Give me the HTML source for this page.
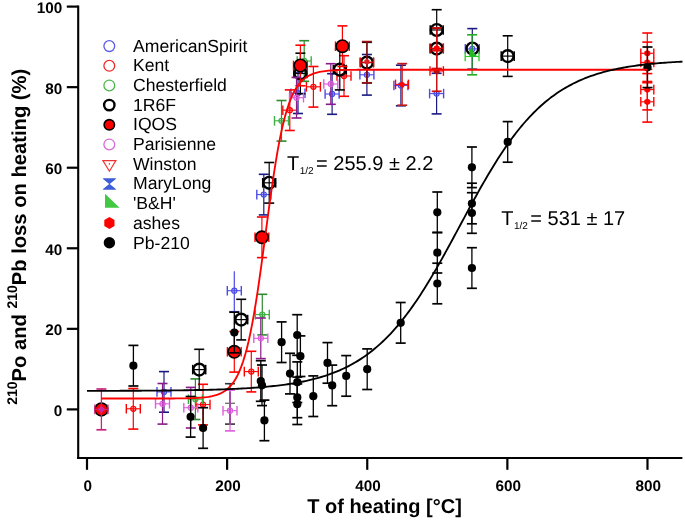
<!DOCTYPE html>
<html><head><meta charset="utf-8"><style>
html,body{margin:0;padding:0;background:#fff;width:685px;height:520px;overflow:hidden}
svg{display:block;will-change:transform}
text{font-family:"Liberation Sans",sans-serif;text-rendering:geometricPrecision}
.tk{font-weight:bold;font-size:15.3px}
.ttl{font-weight:bold;font-size:20px}
.yt{font-size:20.2px}
.sup{font-size:14px}
.leg{font-size:17.6px}
.lab{font-size:20px}
.sub{font-size:10px}
</style></head><body>
<svg width="685" height="520" viewBox="0 0 685 520">
<rect width="685" height="520" fill="#fff"/>
<line x1="164" y1="371.6" x2="164" y2="412.2" stroke="#1a1a84" stroke-width="1.2"/>
<line x1="159" y1="371.6" x2="169" y2="371.6" stroke="#1a1a84" stroke-width="1.6"/>
<line x1="159" y1="412.2" x2="169" y2="412.2" stroke="#1a1a84" stroke-width="1.6"/>
<line x1="157" y1="391.9" x2="171" y2="391.9" stroke="#4b4bea" stroke-width="1.1"/>
<line x1="157" y1="387.1" x2="157" y2="396.7" stroke="#4b4bea" stroke-width="1.4000000000000001"/>
<line x1="171" y1="387.1" x2="171" y2="396.7" stroke="#4b4bea" stroke-width="1.4000000000000001"/>
<circle cx="164" cy="391.9" r="2.6" fill="#4b4bea" fill-opacity="0.35" stroke="#4b4bea" stroke-width="1.1"/>
<line x1="263.8" y1="174.3" x2="263.8" y2="214.9" stroke="#1a1a84" stroke-width="1.2"/>
<line x1="258.8" y1="174.3" x2="268.8" y2="174.3" stroke="#1a1a84" stroke-width="1.6"/>
<line x1="258.8" y1="214.9" x2="268.8" y2="214.9" stroke="#1a1a84" stroke-width="1.6"/>
<line x1="256.8" y1="194.6" x2="270.8" y2="194.6" stroke="#4b4bea" stroke-width="1.1"/>
<line x1="256.8" y1="189.8" x2="256.8" y2="199.4" stroke="#4b4bea" stroke-width="1.4000000000000001"/>
<line x1="270.8" y1="189.8" x2="270.8" y2="199.4" stroke="#4b4bea" stroke-width="1.4000000000000001"/>
<circle cx="263.8" cy="194.6" r="2.6" fill="#4b4bea" fill-opacity="0.35" stroke="#4b4bea" stroke-width="1.1"/>
<line x1="298" y1="72.9" x2="298" y2="113.5" stroke="#1a1a84" stroke-width="1.2"/>
<line x1="293" y1="72.9" x2="303" y2="72.9" stroke="#1a1a84" stroke-width="1.6"/>
<line x1="293" y1="113.5" x2="303" y2="113.5" stroke="#1a1a84" stroke-width="1.6"/>
<line x1="291" y1="93.2" x2="305" y2="93.2" stroke="#4b4bea" stroke-width="1.1"/>
<line x1="291" y1="88.4" x2="291" y2="98" stroke="#4b4bea" stroke-width="1.4000000000000001"/>
<line x1="305" y1="88.4" x2="305" y2="98" stroke="#4b4bea" stroke-width="1.4000000000000001"/>
<circle cx="298" cy="93.2" r="2.6" fill="#4b4bea" fill-opacity="0.35" stroke="#4b4bea" stroke-width="1.1"/>
<line x1="332.1" y1="73.7" x2="332.1" y2="114.3" stroke="#1a1a84" stroke-width="1.2"/>
<line x1="327.1" y1="73.7" x2="337.1" y2="73.7" stroke="#1a1a84" stroke-width="1.6"/>
<line x1="327.1" y1="114.3" x2="337.1" y2="114.3" stroke="#1a1a84" stroke-width="1.6"/>
<line x1="325.1" y1="94" x2="339.1" y2="94" stroke="#4b4bea" stroke-width="1.1"/>
<line x1="325.1" y1="89.2" x2="325.1" y2="98.8" stroke="#4b4bea" stroke-width="1.4000000000000001"/>
<line x1="339.1" y1="89.2" x2="339.1" y2="98.8" stroke="#4b4bea" stroke-width="1.4000000000000001"/>
<circle cx="332.1" cy="94" r="2.6" fill="#4b4bea" fill-opacity="0.35" stroke="#4b4bea" stroke-width="1.1"/>
<line x1="366.9" y1="54.5" x2="366.9" y2="95.1" stroke="#1a1a84" stroke-width="1.2"/>
<line x1="361.9" y1="54.5" x2="371.9" y2="54.5" stroke="#1a1a84" stroke-width="1.6"/>
<line x1="361.9" y1="95.1" x2="371.9" y2="95.1" stroke="#1a1a84" stroke-width="1.6"/>
<line x1="359.9" y1="74.8" x2="373.9" y2="74.8" stroke="#4b4bea" stroke-width="1.1"/>
<line x1="359.9" y1="70" x2="359.9" y2="79.6" stroke="#4b4bea" stroke-width="1.4000000000000001"/>
<line x1="373.9" y1="70" x2="373.9" y2="79.6" stroke="#4b4bea" stroke-width="1.4000000000000001"/>
<circle cx="366.9" cy="74.8" r="2.6" fill="#4b4bea" fill-opacity="0.35" stroke="#4b4bea" stroke-width="1.1"/>
<line x1="400.9" y1="65.2" x2="400.9" y2="105.8" stroke="#1a1a84" stroke-width="1.2"/>
<line x1="395.9" y1="65.2" x2="405.9" y2="65.2" stroke="#1a1a84" stroke-width="1.6"/>
<line x1="395.9" y1="105.8" x2="405.9" y2="105.8" stroke="#1a1a84" stroke-width="1.6"/>
<line x1="393.9" y1="85.5" x2="407.9" y2="85.5" stroke="#4b4bea" stroke-width="1.1"/>
<line x1="393.9" y1="80.7" x2="393.9" y2="90.3" stroke="#4b4bea" stroke-width="1.4000000000000001"/>
<line x1="407.9" y1="80.7" x2="407.9" y2="90.3" stroke="#4b4bea" stroke-width="1.4000000000000001"/>
<circle cx="400.9" cy="85.5" r="2.6" fill="#4b4bea" fill-opacity="0.35" stroke="#4b4bea" stroke-width="1.1"/>
<line x1="436.6" y1="73.3" x2="436.6" y2="113.9" stroke="#1a1a84" stroke-width="1.2"/>
<line x1="431.6" y1="73.3" x2="441.6" y2="73.3" stroke="#1a1a84" stroke-width="1.6"/>
<line x1="431.6" y1="113.9" x2="441.6" y2="113.9" stroke="#1a1a84" stroke-width="1.6"/>
<line x1="429.6" y1="93.6" x2="443.6" y2="93.6" stroke="#4b4bea" stroke-width="1.1"/>
<line x1="429.6" y1="88.8" x2="429.6" y2="98.4" stroke="#4b4bea" stroke-width="1.4000000000000001"/>
<line x1="443.6" y1="88.8" x2="443.6" y2="98.4" stroke="#4b4bea" stroke-width="1.4000000000000001"/>
<circle cx="436.6" cy="93.6" r="2.6" fill="#4b4bea" fill-opacity="0.35" stroke="#4b4bea" stroke-width="1.1"/>
<line x1="472.3" y1="28.6" x2="472.3" y2="69.2" stroke="#1a1a84" stroke-width="1.2"/>
<line x1="467.3" y1="28.6" x2="477.3" y2="28.6" stroke="#1a1a84" stroke-width="1.6"/>
<line x1="467.3" y1="69.2" x2="477.3" y2="69.2" stroke="#1a1a84" stroke-width="1.6"/>
<line x1="465.3" y1="48.9" x2="479.3" y2="48.9" stroke="#4b4bea" stroke-width="1.1"/>
<line x1="465.3" y1="44.1" x2="465.3" y2="53.7" stroke="#4b4bea" stroke-width="1.4000000000000001"/>
<line x1="479.3" y1="44.1" x2="479.3" y2="53.7" stroke="#4b4bea" stroke-width="1.4000000000000001"/>
<circle cx="472.3" cy="48.9" r="2.6" fill="#4b4bea" fill-opacity="0.35" stroke="#4b4bea" stroke-width="1.1"/>
<line x1="234.3" y1="271.3" x2="234.3" y2="311.7" stroke="#4a4ae4" stroke-width="1.2"/>
<line x1="229.3" y1="311.7" x2="239.3" y2="311.7" stroke="#4a4ae4" stroke-width="1.6"/>
<line x1="227.3" y1="290.7" x2="241.3" y2="290.7" stroke="#4b4bea" stroke-width="1.1"/>
<line x1="227.3" y1="285.9" x2="227.3" y2="295.5" stroke="#4b4bea" stroke-width="1.4000000000000001"/>
<line x1="241.3" y1="285.9" x2="241.3" y2="295.5" stroke="#4b4bea" stroke-width="1.4000000000000001"/>
<circle cx="234.3" cy="290.7" r="2.6" fill="#4b4bea" fill-opacity="0.35" stroke="#4b4bea" stroke-width="1.1"/>
<line x1="133.3" y1="388.5" x2="133.3" y2="429.1" stroke="#ff0000" stroke-width="1.2"/>
<line x1="128.3" y1="388.5" x2="138.3" y2="388.5" stroke="#ff0000" stroke-width="1.6"/>
<line x1="128.3" y1="429.1" x2="138.3" y2="429.1" stroke="#ff0000" stroke-width="1.6"/>
<line x1="126.3" y1="408.8" x2="140.3" y2="408.8" stroke="#ff0000" stroke-width="1.1"/>
<line x1="126.3" y1="404" x2="126.3" y2="413.6" stroke="#ff0000" stroke-width="1.4000000000000001"/>
<line x1="140.3" y1="404" x2="140.3" y2="413.6" stroke="#ff0000" stroke-width="1.4000000000000001"/>
<circle cx="133.3" cy="408.8" r="2.6" fill="#ff0000" fill-opacity="0.35" stroke="#ff0000" stroke-width="1.1"/>
<line x1="203" y1="384.3" x2="203" y2="424.9" stroke="#ff0000" stroke-width="1.2"/>
<line x1="198" y1="384.3" x2="208" y2="384.3" stroke="#ff0000" stroke-width="1.6"/>
<line x1="198" y1="424.9" x2="208" y2="424.9" stroke="#ff0000" stroke-width="1.6"/>
<line x1="196" y1="404.6" x2="210" y2="404.6" stroke="#ff0000" stroke-width="1.1"/>
<line x1="196" y1="399.8" x2="196" y2="409.4" stroke="#ff0000" stroke-width="1.4000000000000001"/>
<line x1="210" y1="399.8" x2="210" y2="409.4" stroke="#ff0000" stroke-width="1.4000000000000001"/>
<circle cx="203" cy="404.6" r="2.6" fill="#ff0000" fill-opacity="0.35" stroke="#ff0000" stroke-width="1.1"/>
<line x1="251.3" y1="351.3" x2="251.3" y2="391.9" stroke="#ff0000" stroke-width="1.2"/>
<line x1="246.3" y1="351.3" x2="256.3" y2="351.3" stroke="#ff0000" stroke-width="1.6"/>
<line x1="246.3" y1="391.9" x2="256.3" y2="391.9" stroke="#ff0000" stroke-width="1.6"/>
<line x1="244.3" y1="371.6" x2="258.3" y2="371.6" stroke="#ff0000" stroke-width="1.1"/>
<line x1="244.3" y1="366.8" x2="244.3" y2="376.4" stroke="#ff0000" stroke-width="1.4000000000000001"/>
<line x1="258.3" y1="366.8" x2="258.3" y2="376.4" stroke="#ff0000" stroke-width="1.4000000000000001"/>
<circle cx="251.3" cy="371.6" r="2.6" fill="#ff0000" fill-opacity="0.35" stroke="#ff0000" stroke-width="1.1"/>
<line x1="289.8" y1="89.9" x2="289.8" y2="130.5" stroke="#ff0000" stroke-width="1.2"/>
<line x1="284.8" y1="89.9" x2="294.8" y2="89.9" stroke="#ff0000" stroke-width="1.6"/>
<line x1="284.8" y1="130.5" x2="294.8" y2="130.5" stroke="#ff0000" stroke-width="1.6"/>
<line x1="282.8" y1="110.2" x2="296.8" y2="110.2" stroke="#ff0000" stroke-width="1.1"/>
<line x1="282.8" y1="105.4" x2="282.8" y2="115" stroke="#ff0000" stroke-width="1.4000000000000001"/>
<line x1="296.8" y1="105.4" x2="296.8" y2="115" stroke="#ff0000" stroke-width="1.4000000000000001"/>
<circle cx="289.8" cy="110.2" r="2.6" fill="#ff0000" fill-opacity="0.35" stroke="#ff0000" stroke-width="1.1"/>
<line x1="313.4" y1="66.5" x2="313.4" y2="107.1" stroke="#ff0000" stroke-width="1.2"/>
<line x1="308.4" y1="66.5" x2="318.4" y2="66.5" stroke="#ff0000" stroke-width="1.6"/>
<line x1="308.4" y1="107.1" x2="318.4" y2="107.1" stroke="#ff0000" stroke-width="1.6"/>
<line x1="306.4" y1="86.8" x2="320.4" y2="86.8" stroke="#ff0000" stroke-width="1.1"/>
<line x1="306.4" y1="82" x2="306.4" y2="91.6" stroke="#ff0000" stroke-width="1.4000000000000001"/>
<line x1="320.4" y1="82" x2="320.4" y2="91.6" stroke="#ff0000" stroke-width="1.4000000000000001"/>
<circle cx="313.4" cy="86.8" r="2.6" fill="#ff0000" fill-opacity="0.35" stroke="#ff0000" stroke-width="1.1"/>
<line x1="344" y1="55.7" x2="344" y2="96.3" stroke="#ff0000" stroke-width="1.2"/>
<line x1="339" y1="55.7" x2="349" y2="55.7" stroke="#ff0000" stroke-width="1.6"/>
<line x1="339" y1="96.3" x2="349" y2="96.3" stroke="#ff0000" stroke-width="1.6"/>
<line x1="337" y1="76" x2="351" y2="76" stroke="#ff0000" stroke-width="1.1"/>
<line x1="337" y1="71.2" x2="337" y2="80.8" stroke="#ff0000" stroke-width="1.4000000000000001"/>
<line x1="351" y1="71.2" x2="351" y2="80.8" stroke="#ff0000" stroke-width="1.4000000000000001"/>
<circle cx="344" cy="76" r="2.6" fill="#ff0000" fill-opacity="0.35" stroke="#ff0000" stroke-width="1.1"/>
<line x1="195.4" y1="378.9" x2="195.4" y2="419.5" stroke="#2e8b2e" stroke-width="1.2"/>
<line x1="190.4" y1="378.9" x2="200.4" y2="378.9" stroke="#2e8b2e" stroke-width="1.6"/>
<line x1="190.4" y1="419.5" x2="200.4" y2="419.5" stroke="#2e8b2e" stroke-width="1.6"/>
<line x1="188.4" y1="399.2" x2="202.4" y2="399.2" stroke="#3cb043" stroke-width="1.1"/>
<line x1="188.4" y1="394.4" x2="188.4" y2="404" stroke="#3cb043" stroke-width="1.4000000000000001"/>
<line x1="202.4" y1="394.4" x2="202.4" y2="404" stroke="#3cb043" stroke-width="1.4000000000000001"/>
<circle cx="195.4" cy="399.2" r="2.6" fill="#3cb043" fill-opacity="0.35" stroke="#3cb043" stroke-width="1.1"/>
<line x1="262.3" y1="294.3" x2="262.3" y2="334.9" stroke="#2e8b2e" stroke-width="1.2"/>
<line x1="257.3" y1="294.3" x2="267.3" y2="294.3" stroke="#2e8b2e" stroke-width="1.6"/>
<line x1="257.3" y1="334.9" x2="267.3" y2="334.9" stroke="#2e8b2e" stroke-width="1.6"/>
<line x1="255.3" y1="314.6" x2="269.3" y2="314.6" stroke="#3cb043" stroke-width="1.1"/>
<line x1="255.3" y1="309.8" x2="255.3" y2="319.4" stroke="#3cb043" stroke-width="1.4000000000000001"/>
<line x1="269.3" y1="309.8" x2="269.3" y2="319.4" stroke="#3cb043" stroke-width="1.4000000000000001"/>
<circle cx="262.3" cy="314.6" r="2.6" fill="#3cb043" fill-opacity="0.35" stroke="#3cb043" stroke-width="1.1"/>
<line x1="281.5" y1="100.5" x2="281.5" y2="141.1" stroke="#2e8b2e" stroke-width="1.2"/>
<line x1="276.5" y1="100.5" x2="286.5" y2="100.5" stroke="#2e8b2e" stroke-width="1.6"/>
<line x1="276.5" y1="141.1" x2="286.5" y2="141.1" stroke="#2e8b2e" stroke-width="1.6"/>
<line x1="274.5" y1="120.8" x2="288.5" y2="120.8" stroke="#3cb043" stroke-width="1.1"/>
<line x1="274.5" y1="116" x2="274.5" y2="125.6" stroke="#3cb043" stroke-width="1.4000000000000001"/>
<line x1="288.5" y1="116" x2="288.5" y2="125.6" stroke="#3cb043" stroke-width="1.4000000000000001"/>
<circle cx="281.5" cy="120.8" r="2.6" fill="#3cb043" fill-opacity="0.35" stroke="#3cb043" stroke-width="1.1"/>
<line x1="304.2" y1="40.7" x2="304.2" y2="81.3" stroke="#2e8b2e" stroke-width="1.2"/>
<line x1="299.2" y1="40.7" x2="309.2" y2="40.7" stroke="#2e8b2e" stroke-width="1.6"/>
<line x1="299.2" y1="81.3" x2="309.2" y2="81.3" stroke="#2e8b2e" stroke-width="1.6"/>
<line x1="297.2" y1="61" x2="311.2" y2="61" stroke="#3cb043" stroke-width="1.1"/>
<line x1="297.2" y1="56.2" x2="297.2" y2="65.8" stroke="#3cb043" stroke-width="1.4000000000000001"/>
<line x1="311.2" y1="56.2" x2="311.2" y2="65.8" stroke="#3cb043" stroke-width="1.4000000000000001"/>
<circle cx="304.2" cy="61" r="2.6" fill="#3cb043" fill-opacity="0.35" stroke="#3cb043" stroke-width="1.1"/>
<line x1="199.2" y1="349.3" x2="199.2" y2="389.9" stroke="#000000" stroke-width="1.2"/>
<line x1="194.2" y1="349.3" x2="204.2" y2="349.3" stroke="#000000" stroke-width="1.6"/>
<line x1="194.2" y1="389.9" x2="204.2" y2="389.9" stroke="#000000" stroke-width="1.6"/>
<line x1="192.7" y1="369.6" x2="205.7" y2="369.6" stroke="#000000" stroke-width="1.2"/>
<line x1="192.7" y1="364.8" x2="192.7" y2="374.4" stroke="#000000" stroke-width="1.5"/>
<line x1="205.7" y1="364.8" x2="205.7" y2="374.4" stroke="#000000" stroke-width="1.5"/>
<circle cx="199.2" cy="369.6" r="5.9" fill="none" stroke="#000" stroke-width="2.4"/>
<line x1="241.2" y1="299.3" x2="241.2" y2="339.9" stroke="#000000" stroke-width="1.2"/>
<line x1="236.2" y1="299.3" x2="246.2" y2="299.3" stroke="#000000" stroke-width="1.6"/>
<line x1="236.2" y1="339.9" x2="246.2" y2="339.9" stroke="#000000" stroke-width="1.6"/>
<line x1="234.7" y1="319.6" x2="247.7" y2="319.6" stroke="#000000" stroke-width="1.2"/>
<line x1="234.7" y1="314.8" x2="234.7" y2="324.4" stroke="#000000" stroke-width="1.5"/>
<line x1="247.7" y1="314.8" x2="247.7" y2="324.4" stroke="#000000" stroke-width="1.5"/>
<circle cx="241.2" cy="319.6" r="5.9" fill="none" stroke="#000" stroke-width="2.4"/>
<line x1="269.2" y1="162.5" x2="269.2" y2="203.1" stroke="#000000" stroke-width="1.2"/>
<line x1="264.2" y1="162.5" x2="274.2" y2="162.5" stroke="#000000" stroke-width="1.6"/>
<line x1="264.2" y1="203.1" x2="274.2" y2="203.1" stroke="#000000" stroke-width="1.6"/>
<line x1="262.7" y1="182.8" x2="275.7" y2="182.8" stroke="#000000" stroke-width="1.2"/>
<line x1="262.7" y1="178" x2="262.7" y2="187.6" stroke="#000000" stroke-width="1.5"/>
<line x1="275.7" y1="178" x2="275.7" y2="187.6" stroke="#000000" stroke-width="1.5"/>
<circle cx="269.2" cy="182.8" r="5.9" fill="none" stroke="#000" stroke-width="2.4"/>
<line x1="300.4" y1="53.2" x2="300.4" y2="93.8" stroke="#000000" stroke-width="1.2"/>
<line x1="295.4" y1="53.2" x2="305.4" y2="53.2" stroke="#000000" stroke-width="1.6"/>
<line x1="295.4" y1="93.8" x2="305.4" y2="93.8" stroke="#000000" stroke-width="1.6"/>
<line x1="293.9" y1="73.5" x2="306.9" y2="73.5" stroke="#000000" stroke-width="1.2"/>
<line x1="293.9" y1="68.7" x2="293.9" y2="78.3" stroke="#000000" stroke-width="1.5"/>
<line x1="306.9" y1="68.7" x2="306.9" y2="78.3" stroke="#000000" stroke-width="1.5"/>
<circle cx="300.4" cy="73.5" r="5.9" fill="none" stroke="#000" stroke-width="2.4"/>
<line x1="339.8" y1="49.3" x2="339.8" y2="89.9" stroke="#000000" stroke-width="1.2"/>
<line x1="334.8" y1="49.3" x2="344.8" y2="49.3" stroke="#000000" stroke-width="1.6"/>
<line x1="334.8" y1="89.9" x2="344.8" y2="89.9" stroke="#000000" stroke-width="1.6"/>
<line x1="333.3" y1="69.6" x2="346.3" y2="69.6" stroke="#000000" stroke-width="1.2"/>
<line x1="333.3" y1="64.8" x2="333.3" y2="74.4" stroke="#000000" stroke-width="1.5"/>
<line x1="346.3" y1="64.8" x2="346.3" y2="74.4" stroke="#000000" stroke-width="1.5"/>
<circle cx="339.8" cy="69.6" r="5.9" fill="none" stroke="#000" stroke-width="2.4"/>
<line x1="366.9" y1="42.3" x2="366.9" y2="82.9" stroke="#000000" stroke-width="1.2"/>
<line x1="361.9" y1="42.3" x2="371.9" y2="42.3" stroke="#000000" stroke-width="1.6"/>
<line x1="361.9" y1="82.9" x2="371.9" y2="82.9" stroke="#000000" stroke-width="1.6"/>
<line x1="360.4" y1="62.6" x2="373.4" y2="62.6" stroke="#000000" stroke-width="1.2"/>
<line x1="360.4" y1="57.8" x2="360.4" y2="67.4" stroke="#000000" stroke-width="1.5"/>
<line x1="373.4" y1="57.8" x2="373.4" y2="67.4" stroke="#000000" stroke-width="1.5"/>
<circle cx="366.9" cy="62.6" r="5.9" fill="none" stroke="#000" stroke-width="2.4"/>
<line x1="436.7" y1="9.7" x2="436.7" y2="50.3" stroke="#000000" stroke-width="1.2"/>
<line x1="431.7" y1="9.7" x2="441.7" y2="9.7" stroke="#000000" stroke-width="1.6"/>
<line x1="431.7" y1="50.3" x2="441.7" y2="50.3" stroke="#000000" stroke-width="1.6"/>
<line x1="430.2" y1="30" x2="443.2" y2="30" stroke="#000000" stroke-width="1.2"/>
<line x1="430.2" y1="25.2" x2="430.2" y2="34.8" stroke="#000000" stroke-width="1.5"/>
<line x1="443.2" y1="25.2" x2="443.2" y2="34.8" stroke="#000000" stroke-width="1.5"/>
<circle cx="436.7" cy="30" r="5.9" fill="none" stroke="#000" stroke-width="2.4"/>
<line x1="436.7" y1="28.3" x2="436.7" y2="68.9" stroke="#000000" stroke-width="1.2"/>
<line x1="431.7" y1="28.3" x2="441.7" y2="28.3" stroke="#000000" stroke-width="1.6"/>
<line x1="431.7" y1="68.9" x2="441.7" y2="68.9" stroke="#000000" stroke-width="1.6"/>
<line x1="430.2" y1="48.6" x2="443.2" y2="48.6" stroke="#000000" stroke-width="1.2"/>
<line x1="430.2" y1="43.8" x2="430.2" y2="53.4" stroke="#000000" stroke-width="1.5"/>
<line x1="443.2" y1="43.8" x2="443.2" y2="53.4" stroke="#000000" stroke-width="1.5"/>
<circle cx="436.7" cy="48.6" r="5.9" fill="none" stroke="#000" stroke-width="2.4"/>
<line x1="507.7" y1="35.8" x2="507.7" y2="76.4" stroke="#000000" stroke-width="1.2"/>
<line x1="502.7" y1="35.8" x2="512.7" y2="35.8" stroke="#000000" stroke-width="1.6"/>
<line x1="502.7" y1="76.4" x2="512.7" y2="76.4" stroke="#000000" stroke-width="1.6"/>
<line x1="501.2" y1="56.1" x2="514.2" y2="56.1" stroke="#000000" stroke-width="1.2"/>
<line x1="501.2" y1="51.3" x2="501.2" y2="60.9" stroke="#000000" stroke-width="1.5"/>
<line x1="514.2" y1="51.3" x2="514.2" y2="60.9" stroke="#000000" stroke-width="1.5"/>
<circle cx="507.7" cy="56.1" r="5.9" fill="none" stroke="#000" stroke-width="2.4"/>
<circle cx="472.4" cy="48.5" r="5.9" fill="none" stroke="#000" stroke-width="2.4"/>
<line x1="234.3" y1="331.5" x2="234.3" y2="372.1" stroke="#ff0000" stroke-width="1.2"/>
<line x1="229.3" y1="331.5" x2="239.3" y2="331.5" stroke="#ff0000" stroke-width="1.6"/>
<line x1="229.3" y1="372.1" x2="239.3" y2="372.1" stroke="#ff0000" stroke-width="1.6"/>
<line x1="227.4" y1="351.8" x2="241.2" y2="351.8" stroke="#ff0000" stroke-width="1.1"/>
<line x1="227.4" y1="347" x2="227.4" y2="356.6" stroke="#ff0000" stroke-width="1.4000000000000001"/>
<line x1="241.2" y1="347" x2="241.2" y2="356.6" stroke="#ff0000" stroke-width="1.4000000000000001"/>
<circle cx="234.3" cy="351.8" r="6.2" fill="#ff0000" stroke="#000" stroke-width="1.6"/>
<line x1="261.9" y1="217" x2="261.9" y2="257.6" stroke="#ff0000" stroke-width="1.2"/>
<line x1="256.9" y1="217" x2="266.9" y2="217" stroke="#ff0000" stroke-width="1.6"/>
<line x1="256.9" y1="257.6" x2="266.9" y2="257.6" stroke="#ff0000" stroke-width="1.6"/>
<line x1="255" y1="237.3" x2="268.8" y2="237.3" stroke="#ff0000" stroke-width="1.1"/>
<line x1="255" y1="232.5" x2="255" y2="242.1" stroke="#ff0000" stroke-width="1.4000000000000001"/>
<line x1="268.8" y1="232.5" x2="268.8" y2="242.1" stroke="#ff0000" stroke-width="1.4000000000000001"/>
<circle cx="261.9" cy="237.3" r="6.2" fill="#ff0000" stroke="#000" stroke-width="1.6"/>
<line x1="300.4" y1="45.2" x2="300.4" y2="85.8" stroke="#ff0000" stroke-width="1.2"/>
<line x1="295.4" y1="45.2" x2="305.4" y2="45.2" stroke="#ff0000" stroke-width="1.6"/>
<line x1="295.4" y1="85.8" x2="305.4" y2="85.8" stroke="#ff0000" stroke-width="1.6"/>
<line x1="293.5" y1="65.5" x2="307.3" y2="65.5" stroke="#ff0000" stroke-width="1.1"/>
<line x1="293.5" y1="60.7" x2="293.5" y2="70.3" stroke="#ff0000" stroke-width="1.4000000000000001"/>
<line x1="307.3" y1="60.7" x2="307.3" y2="70.3" stroke="#ff0000" stroke-width="1.4000000000000001"/>
<circle cx="300.4" cy="65.5" r="6.2" fill="#ff0000" stroke="#000" stroke-width="1.6"/>
<line x1="342.4" y1="25.9" x2="342.4" y2="66.5" stroke="#ff0000" stroke-width="1.2"/>
<line x1="337.4" y1="25.9" x2="347.4" y2="25.9" stroke="#ff0000" stroke-width="1.6"/>
<line x1="337.4" y1="66.5" x2="347.4" y2="66.5" stroke="#ff0000" stroke-width="1.6"/>
<line x1="335.5" y1="46.2" x2="349.3" y2="46.2" stroke="#ff0000" stroke-width="1.1"/>
<line x1="335.5" y1="41.4" x2="335.5" y2="51" stroke="#ff0000" stroke-width="1.4000000000000001"/>
<line x1="349.3" y1="41.4" x2="349.3" y2="51" stroke="#ff0000" stroke-width="1.4000000000000001"/>
<circle cx="342.4" cy="46.2" r="6.2" fill="#ff0000" stroke="#000" stroke-width="1.6"/>
<circle cx="101.4" cy="409.45" r="6.4" fill="#ff0000" stroke="#000" stroke-width="1.6"/>
<line x1="101.4" y1="389" x2="101.4" y2="429.8" stroke="#c8247e" stroke-width="1.3"/>
<line x1="96.4" y1="389" x2="106.4" y2="389" stroke="#c8247e" stroke-width="1.7000000000000002"/>
<line x1="96.4" y1="429.8" x2="106.4" y2="429.8" stroke="#c8247e" stroke-width="1.7000000000000002"/>
<line x1="94.9" y1="409.4" x2="107.9" y2="409.4" stroke="#c8247e" stroke-width="1.1"/>
<line x1="94.9" y1="404.6" x2="94.9" y2="414.2" stroke="#c8247e" stroke-width="1.4000000000000001"/>
<line x1="107.9" y1="404.6" x2="107.9" y2="414.2" stroke="#c8247e" stroke-width="1.4000000000000001"/>
<polygon points="101.4,405.6 105.2,409.4 101.4,413.2 97.6,409.4" fill="#cc2a9a"/>
<line x1="162.5" y1="383.5" x2="162.5" y2="424.1" stroke="#8a1a8a" stroke-width="1.2"/>
<line x1="157.5" y1="383.5" x2="167.5" y2="383.5" stroke="#8a1a8a" stroke-width="1.6"/>
<line x1="157.5" y1="424.1" x2="167.5" y2="424.1" stroke="#8a1a8a" stroke-width="1.6"/>
<line x1="155.5" y1="403.8" x2="169.5" y2="403.8" stroke="#dd5cdd" stroke-width="1.1"/>
<line x1="155.5" y1="399" x2="155.5" y2="408.6" stroke="#dd5cdd" stroke-width="1.4000000000000001"/>
<line x1="169.5" y1="399" x2="169.5" y2="408.6" stroke="#dd5cdd" stroke-width="1.4000000000000001"/>
<circle cx="162.5" cy="403.8" r="2.6" fill="#dd5cdd" fill-opacity="0.35" stroke="#dd5cdd" stroke-width="1.1"/>
<line x1="190.8" y1="387.4" x2="190.8" y2="428" stroke="#8a1a8a" stroke-width="1.2"/>
<line x1="185.8" y1="387.4" x2="195.8" y2="387.4" stroke="#8a1a8a" stroke-width="1.6"/>
<line x1="185.8" y1="428" x2="195.8" y2="428" stroke="#8a1a8a" stroke-width="1.6"/>
<line x1="183.8" y1="407.7" x2="197.8" y2="407.7" stroke="#dd5cdd" stroke-width="1.1"/>
<line x1="183.8" y1="402.9" x2="183.8" y2="412.5" stroke="#dd5cdd" stroke-width="1.4000000000000001"/>
<line x1="197.8" y1="402.9" x2="197.8" y2="412.5" stroke="#dd5cdd" stroke-width="1.4000000000000001"/>
<circle cx="190.8" cy="407.7" r="2.6" fill="#dd5cdd" fill-opacity="0.35" stroke="#dd5cdd" stroke-width="1.1"/>
<line x1="260.8" y1="318" x2="260.8" y2="358.6" stroke="#8a1a8a" stroke-width="1.2"/>
<line x1="255.8" y1="318" x2="265.8" y2="318" stroke="#8a1a8a" stroke-width="1.6"/>
<line x1="255.8" y1="358.6" x2="265.8" y2="358.6" stroke="#8a1a8a" stroke-width="1.6"/>
<line x1="253.8" y1="338.3" x2="267.8" y2="338.3" stroke="#dd5cdd" stroke-width="1.1"/>
<line x1="253.8" y1="333.5" x2="253.8" y2="343.1" stroke="#dd5cdd" stroke-width="1.4000000000000001"/>
<line x1="267.8" y1="333.5" x2="267.8" y2="343.1" stroke="#dd5cdd" stroke-width="1.4000000000000001"/>
<circle cx="260.8" cy="338.3" r="2.6" fill="#dd5cdd" fill-opacity="0.35" stroke="#dd5cdd" stroke-width="1.1"/>
<line x1="296.5" y1="77.4" x2="296.5" y2="118" stroke="#8a1a8a" stroke-width="1.2"/>
<line x1="291.5" y1="77.4" x2="301.5" y2="77.4" stroke="#8a1a8a" stroke-width="1.6"/>
<line x1="291.5" y1="118" x2="301.5" y2="118" stroke="#8a1a8a" stroke-width="1.6"/>
<line x1="289.5" y1="97.7" x2="303.5" y2="97.7" stroke="#dd5cdd" stroke-width="1.1"/>
<line x1="289.5" y1="92.9" x2="289.5" y2="102.5" stroke="#dd5cdd" stroke-width="1.4000000000000001"/>
<line x1="303.5" y1="92.9" x2="303.5" y2="102.5" stroke="#dd5cdd" stroke-width="1.4000000000000001"/>
<circle cx="296.5" cy="97.7" r="2.6" fill="#dd5cdd" fill-opacity="0.35" stroke="#dd5cdd" stroke-width="1.1"/>
<line x1="330.8" y1="63.7" x2="330.8" y2="104.3" stroke="#8a1a8a" stroke-width="1.2"/>
<line x1="325.8" y1="63.7" x2="335.8" y2="63.7" stroke="#8a1a8a" stroke-width="1.6"/>
<line x1="325.8" y1="104.3" x2="335.8" y2="104.3" stroke="#8a1a8a" stroke-width="1.6"/>
<line x1="323.8" y1="84" x2="337.8" y2="84" stroke="#dd5cdd" stroke-width="1.1"/>
<line x1="323.8" y1="79.2" x2="323.8" y2="88.8" stroke="#dd5cdd" stroke-width="1.4000000000000001"/>
<line x1="337.8" y1="79.2" x2="337.8" y2="88.8" stroke="#dd5cdd" stroke-width="1.4000000000000001"/>
<circle cx="330.8" cy="84" r="2.6" fill="#dd5cdd" fill-opacity="0.35" stroke="#dd5cdd" stroke-width="1.1"/>
<line x1="230" y1="383.7" x2="230" y2="424.1" stroke="#333333" stroke-width="1.2"/>
<line x1="225" y1="383.7" x2="235" y2="383.7" stroke="#333333" stroke-width="1.6"/>
<line x1="225" y1="424.1" x2="235" y2="424.1" stroke="#333333" stroke-width="1.6"/>
<line x1="225" y1="403.3" x2="235" y2="403.3" stroke="#777" stroke-width="1.4"/>
<line x1="230" y1="390.1" x2="230" y2="430.9" stroke="#dd5cdd" stroke-width="1.2"/>
<line x1="225" y1="390.1" x2="235" y2="390.1" stroke="#dd5cdd" stroke-width="1.6"/>
<line x1="225" y1="430.9" x2="235" y2="430.9" stroke="#dd5cdd" stroke-width="1.6"/>
<line x1="230" y1="392" x2="230" y2="424" stroke="#9a3a9a" stroke-width="1.3"/>
<line x1="223" y1="410.7" x2="237" y2="410.7" stroke="#dd5cdd" stroke-width="1.1"/>
<line x1="223" y1="405.9" x2="223" y2="415.5" stroke="#dd5cdd" stroke-width="1.4000000000000001"/>
<line x1="237" y1="405.9" x2="237" y2="415.5" stroke="#dd5cdd" stroke-width="1.4000000000000001"/>
<circle cx="230" cy="410.7" r="2.6" fill="#dd5cdd" fill-opacity="0.35" stroke="#dd5cdd" stroke-width="1.1"/>
<line x1="366.9" y1="41.6" x2="366.9" y2="82.8" stroke="#9a1010" stroke-width="1.3"/>
<line x1="361.9" y1="41.6" x2="371.9" y2="41.6" stroke="#9a1010" stroke-width="1.7000000000000002"/>
<line x1="361.9" y1="82.8" x2="371.9" y2="82.8" stroke="#9a1010" stroke-width="1.7000000000000002"/>
<line x1="360.2" y1="62.2" x2="373.6" y2="62.2" stroke="#ff0000" stroke-width="1.1"/>
<line x1="360.2" y1="57.4" x2="360.2" y2="67" stroke="#ff0000" stroke-width="1.4000000000000001"/>
<line x1="373.6" y1="57.4" x2="373.6" y2="67" stroke="#ff0000" stroke-width="1.4000000000000001"/>
<polygon points="366.9,58.8 364.3,60.3 364.3,63.3 366.9,64.8 369.5,63.3 369.5,60.3" fill="#e02020"/>
<line x1="402.2" y1="63.6" x2="402.2" y2="105.2" stroke="#c01818" stroke-width="1.2"/>
<line x1="397.2" y1="63.6" x2="407.2" y2="63.6" stroke="#c01818" stroke-width="1.6"/>
<line x1="397.2" y1="105.2" x2="407.2" y2="105.2" stroke="#c01818" stroke-width="1.6"/>
<line x1="395.5" y1="84.4" x2="408.5" y2="84.4" stroke="#ff0000" stroke-width="1.1"/>
<line x1="395.5" y1="79.6" x2="395.5" y2="89.2" stroke="#ff0000" stroke-width="1.4000000000000001"/>
<line x1="408.5" y1="79.6" x2="408.5" y2="89.2" stroke="#ff0000" stroke-width="1.4000000000000001"/>
<polygon points="402,81.4 399.4,82.9 399.4,85.9 402,87.4 404.6,85.9 404.6,82.9" fill="#ff0000"/>
<line x1="436.7" y1="27.9" x2="436.7" y2="68.5" stroke="#d01010" stroke-width="1.3"/>
<line x1="431.7" y1="27.9" x2="441.7" y2="27.9" stroke="#d01010" stroke-width="1.7000000000000002"/>
<line x1="431.7" y1="68.5" x2="441.7" y2="68.5" stroke="#d01010" stroke-width="1.7000000000000002"/>
<line x1="430" y1="48.2" x2="443.4" y2="48.2" stroke="#ff0000" stroke-width="1.1"/>
<line x1="430" y1="43.4" x2="430" y2="53" stroke="#ff0000" stroke-width="1.4000000000000001"/>
<line x1="443.4" y1="43.4" x2="443.4" y2="53" stroke="#ff0000" stroke-width="1.4000000000000001"/>
<line x1="436.7" y1="50.7" x2="436.7" y2="91.3" stroke="#d01010" stroke-width="1.3"/>
<line x1="431.7" y1="50.7" x2="441.7" y2="50.7" stroke="#d01010" stroke-width="1.7000000000000002"/>
<line x1="431.7" y1="91.3" x2="441.7" y2="91.3" stroke="#d01010" stroke-width="1.7000000000000002"/>
<line x1="430" y1="71" x2="443.4" y2="71" stroke="#ff0000" stroke-width="1.1"/>
<line x1="430" y1="66.2" x2="430" y2="75.8" stroke="#ff0000" stroke-width="1.4000000000000001"/>
<line x1="443.4" y1="66.2" x2="443.4" y2="75.8" stroke="#ff0000" stroke-width="1.4000000000000001"/>
<polygon points="436.7,45 433.93,46.6 433.93,49.8 436.7,51.4 439.47,49.8 439.47,46.6" fill="#ff0000"/>
<polygon points="436.7,67.6 433.76,69.3 433.76,72.7 436.7,74.4 439.64,72.7 439.64,69.3" fill="#b01010"/>
<line x1="472.1" y1="34.8" x2="472.1" y2="74.8" stroke="#22aa22" stroke-width="1.2"/>
<line x1="467.1" y1="34.8" x2="477.1" y2="34.8" stroke="#22aa22" stroke-width="1.6"/>
<line x1="467.1" y1="74.8" x2="477.1" y2="74.8" stroke="#22aa22" stroke-width="1.6"/>
<line x1="465.2" y1="56.5" x2="479" y2="56.5" stroke="#33cc33" stroke-width="1.1"/>
<line x1="465.2" y1="51.7" x2="465.2" y2="61.3" stroke="#33cc33" stroke-width="1.4000000000000001"/>
<line x1="479" y1="51.7" x2="479" y2="61.3" stroke="#33cc33" stroke-width="1.4000000000000001"/>
<polygon points="469.4,47.5 469.4,56.8 477.5,56.8" fill="#22bb22"/>
<line x1="647.3" y1="33" x2="647.3" y2="73.6" stroke="#ff0000" stroke-width="1.2"/>
<line x1="642.3" y1="33" x2="652.3" y2="33" stroke="#ff0000" stroke-width="1.6"/>
<line x1="642.3" y1="73.6" x2="652.3" y2="73.6" stroke="#ff0000" stroke-width="1.6"/>
<line x1="640.8" y1="53.3" x2="653.8" y2="53.3" stroke="#ff0000" stroke-width="1.1"/>
<line x1="640.8" y1="48.5" x2="640.8" y2="58.1" stroke="#ff0000" stroke-width="1.4000000000000001"/>
<line x1="653.8" y1="48.5" x2="653.8" y2="58.1" stroke="#ff0000" stroke-width="1.4000000000000001"/>
<polygon points="647.3,49.9 644.36,51.6 644.36,55 647.3,56.7 650.24,55 650.24,51.6" fill="#ff0000"/>
<line x1="647.3" y1="42.1" x2="647.3" y2="82.7" stroke="#ff0000" stroke-width="1.2"/>
<line x1="642.3" y1="42.1" x2="652.3" y2="42.1" stroke="#ff0000" stroke-width="1.6"/>
<line x1="642.3" y1="82.7" x2="652.3" y2="82.7" stroke="#ff0000" stroke-width="1.6"/>
<line x1="640.8" y1="62.4" x2="653.8" y2="62.4" stroke="#ff0000" stroke-width="1.1"/>
<line x1="640.8" y1="57.6" x2="640.8" y2="67.2" stroke="#ff0000" stroke-width="1.4000000000000001"/>
<line x1="653.8" y1="57.6" x2="653.8" y2="67.2" stroke="#ff0000" stroke-width="1.4000000000000001"/>
<polygon points="647.3,59 644.36,60.7 644.36,64.1 647.3,65.8 650.24,64.1 650.24,60.7" fill="#ff0000"/>
<line x1="647.3" y1="69.3" x2="647.3" y2="109.9" stroke="#ff0000" stroke-width="1.2"/>
<line x1="642.3" y1="69.3" x2="652.3" y2="69.3" stroke="#ff0000" stroke-width="1.6"/>
<line x1="642.3" y1="109.9" x2="652.3" y2="109.9" stroke="#ff0000" stroke-width="1.6"/>
<line x1="640.8" y1="89.6" x2="653.8" y2="89.6" stroke="#ff0000" stroke-width="1.1"/>
<line x1="640.8" y1="84.8" x2="640.8" y2="94.4" stroke="#ff0000" stroke-width="1.4000000000000001"/>
<line x1="653.8" y1="84.8" x2="653.8" y2="94.4" stroke="#ff0000" stroke-width="1.4000000000000001"/>
<polygon points="647.3,86.2 644.36,87.9 644.36,91.3 647.3,93 650.24,91.3 650.24,87.9" fill="#ff0000"/>
<line x1="647.3" y1="81.5" x2="647.3" y2="122.1" stroke="#ff0000" stroke-width="1.2"/>
<line x1="642.3" y1="81.5" x2="652.3" y2="81.5" stroke="#ff0000" stroke-width="1.6"/>
<line x1="642.3" y1="122.1" x2="652.3" y2="122.1" stroke="#ff0000" stroke-width="1.6"/>
<line x1="640.8" y1="101.8" x2="653.8" y2="101.8" stroke="#ff0000" stroke-width="1.1"/>
<line x1="640.8" y1="97" x2="640.8" y2="106.6" stroke="#ff0000" stroke-width="1.4000000000000001"/>
<line x1="653.8" y1="97" x2="653.8" y2="106.6" stroke="#ff0000" stroke-width="1.4000000000000001"/>
<polygon points="647.3,98.4 644.36,100.1 644.36,103.5 647.3,105.2 650.24,103.5 650.24,100.1" fill="#ff0000"/>
<line x1="133.4" y1="345.4" x2="133.4" y2="386" stroke="#000000" stroke-width="1.3"/>
<line x1="128.4" y1="345.4" x2="138.4" y2="345.4" stroke="#000000" stroke-width="1.7000000000000002"/>
<line x1="128.4" y1="386" x2="138.4" y2="386" stroke="#000000" stroke-width="1.7000000000000002"/>
<circle cx="133.4" cy="365.7" r="4.1" fill="#000000"/>
<line x1="190.6" y1="396.5" x2="190.6" y2="437.1" stroke="#000000" stroke-width="1.3"/>
<line x1="185.6" y1="396.5" x2="195.6" y2="396.5" stroke="#000000" stroke-width="1.7000000000000002"/>
<line x1="185.6" y1="437.1" x2="195.6" y2="437.1" stroke="#000000" stroke-width="1.7000000000000002"/>
<circle cx="190.6" cy="416.8" r="4.1" fill="#000000"/>
<line x1="203.1" y1="407.7" x2="203.1" y2="448.3" stroke="#000000" stroke-width="1.3"/>
<line x1="198.1" y1="407.7" x2="208.1" y2="407.7" stroke="#000000" stroke-width="1.7000000000000002"/>
<line x1="198.1" y1="448.3" x2="208.1" y2="448.3" stroke="#000000" stroke-width="1.7000000000000002"/>
<circle cx="203.1" cy="428" r="4.1" fill="#000000"/>
<line x1="234.3" y1="312.2" x2="234.3" y2="352.8" stroke="#000000" stroke-width="1.3"/>
<line x1="229.3" y1="312.2" x2="239.3" y2="312.2" stroke="#000000" stroke-width="1.7000000000000002"/>
<line x1="229.3" y1="352.8" x2="239.3" y2="352.8" stroke="#000000" stroke-width="1.7000000000000002"/>
<circle cx="234.3" cy="332.5" r="4.1" fill="#000000"/>
<line x1="260.8" y1="360.7" x2="260.8" y2="401.3" stroke="#000000" stroke-width="1.3"/>
<line x1="255.8" y1="360.7" x2="265.8" y2="360.7" stroke="#000000" stroke-width="1.7000000000000002"/>
<line x1="255.8" y1="401.3" x2="265.8" y2="401.3" stroke="#000000" stroke-width="1.7000000000000002"/>
<circle cx="260.8" cy="381" r="4.1" fill="#000000"/>
<line x1="262" y1="365" x2="262" y2="405.6" stroke="#000000" stroke-width="1.3"/>
<line x1="257" y1="365" x2="267" y2="365" stroke="#000000" stroke-width="1.7000000000000002"/>
<line x1="257" y1="405.6" x2="267" y2="405.6" stroke="#000000" stroke-width="1.7000000000000002"/>
<circle cx="262" cy="385.3" r="4.1" fill="#000000"/>
<line x1="264.4" y1="400.1" x2="264.4" y2="440.7" stroke="#000000" stroke-width="1.3"/>
<line x1="259.4" y1="400.1" x2="269.4" y2="400.1" stroke="#000000" stroke-width="1.7000000000000002"/>
<line x1="259.4" y1="440.7" x2="269.4" y2="440.7" stroke="#000000" stroke-width="1.7000000000000002"/>
<circle cx="264.4" cy="420.4" r="4.1" fill="#000000"/>
<line x1="281.6" y1="321.9" x2="281.6" y2="362.5" stroke="#000000" stroke-width="1.3"/>
<line x1="276.6" y1="321.9" x2="286.6" y2="321.9" stroke="#000000" stroke-width="1.7000000000000002"/>
<line x1="276.6" y1="362.5" x2="286.6" y2="362.5" stroke="#000000" stroke-width="1.7000000000000002"/>
<circle cx="281.6" cy="342.2" r="4.1" fill="#000000"/>
<line x1="290" y1="353.3" x2="290" y2="393.9" stroke="#000000" stroke-width="1.3"/>
<line x1="285" y1="353.3" x2="295" y2="353.3" stroke="#000000" stroke-width="1.7000000000000002"/>
<line x1="285" y1="393.9" x2="295" y2="393.9" stroke="#000000" stroke-width="1.7000000000000002"/>
<circle cx="290" cy="373.6" r="4.1" fill="#000000"/>
<line x1="297.2" y1="314.7" x2="297.2" y2="355.3" stroke="#000000" stroke-width="1.3"/>
<line x1="292.2" y1="314.7" x2="302.2" y2="314.7" stroke="#000000" stroke-width="1.7000000000000002"/>
<line x1="292.2" y1="355.3" x2="302.2" y2="355.3" stroke="#000000" stroke-width="1.7000000000000002"/>
<circle cx="297.2" cy="335" r="4.1" fill="#000000"/>
<line x1="300.4" y1="335.9" x2="300.4" y2="376.5" stroke="#000000" stroke-width="1.3"/>
<line x1="295.4" y1="335.9" x2="305.4" y2="335.9" stroke="#000000" stroke-width="1.7000000000000002"/>
<line x1="295.4" y1="376.5" x2="305.4" y2="376.5" stroke="#000000" stroke-width="1.7000000000000002"/>
<circle cx="300.4" cy="356.2" r="4.1" fill="#000000"/>
<line x1="297.3" y1="361.9" x2="297.3" y2="402.5" stroke="#000000" stroke-width="1.3"/>
<line x1="292.3" y1="361.9" x2="302.3" y2="361.9" stroke="#000000" stroke-width="1.7000000000000002"/>
<line x1="292.3" y1="402.5" x2="302.3" y2="402.5" stroke="#000000" stroke-width="1.7000000000000002"/>
<circle cx="297.3" cy="382.2" r="4.1" fill="#000000"/>
<line x1="297.3" y1="377.1" x2="297.3" y2="417.7" stroke="#000000" stroke-width="1.3"/>
<line x1="292.3" y1="377.1" x2="302.3" y2="377.1" stroke="#000000" stroke-width="1.7000000000000002"/>
<line x1="292.3" y1="417.7" x2="302.3" y2="417.7" stroke="#000000" stroke-width="1.7000000000000002"/>
<circle cx="297.3" cy="397.4" r="4.1" fill="#000000"/>
<line x1="297.3" y1="383.9" x2="297.3" y2="424.5" stroke="#000000" stroke-width="1.3"/>
<line x1="292.3" y1="383.9" x2="302.3" y2="383.9" stroke="#000000" stroke-width="1.7000000000000002"/>
<line x1="292.3" y1="424.5" x2="302.3" y2="424.5" stroke="#000000" stroke-width="1.7000000000000002"/>
<circle cx="297.3" cy="404.2" r="4.1" fill="#000000"/>
<line x1="313.3" y1="375.9" x2="313.3" y2="416.5" stroke="#000000" stroke-width="1.3"/>
<line x1="308.3" y1="375.9" x2="318.3" y2="375.9" stroke="#000000" stroke-width="1.7000000000000002"/>
<line x1="308.3" y1="416.5" x2="318.3" y2="416.5" stroke="#000000" stroke-width="1.7000000000000002"/>
<circle cx="313.3" cy="396.2" r="4.1" fill="#000000"/>
<line x1="327.5" y1="342.6" x2="327.5" y2="383.2" stroke="#000000" stroke-width="1.3"/>
<line x1="322.5" y1="342.6" x2="332.5" y2="342.6" stroke="#000000" stroke-width="1.7000000000000002"/>
<line x1="322.5" y1="383.2" x2="332.5" y2="383.2" stroke="#000000" stroke-width="1.7000000000000002"/>
<circle cx="327.5" cy="362.9" r="4.1" fill="#000000"/>
<line x1="332.2" y1="365.1" x2="332.2" y2="405.7" stroke="#000000" stroke-width="1.3"/>
<line x1="327.2" y1="365.1" x2="337.2" y2="365.1" stroke="#000000" stroke-width="1.7000000000000002"/>
<line x1="327.2" y1="405.7" x2="337.2" y2="405.7" stroke="#000000" stroke-width="1.7000000000000002"/>
<circle cx="332.2" cy="385.4" r="4.1" fill="#000000"/>
<line x1="346.2" y1="355.6" x2="346.2" y2="396.2" stroke="#000000" stroke-width="1.3"/>
<line x1="341.2" y1="355.6" x2="351.2" y2="355.6" stroke="#000000" stroke-width="1.7000000000000002"/>
<line x1="341.2" y1="396.2" x2="351.2" y2="396.2" stroke="#000000" stroke-width="1.7000000000000002"/>
<circle cx="346.2" cy="375.9" r="4.1" fill="#000000"/>
<line x1="367.2" y1="348.9" x2="367.2" y2="389.5" stroke="#000000" stroke-width="1.3"/>
<line x1="362.2" y1="348.9" x2="372.2" y2="348.9" stroke="#000000" stroke-width="1.7000000000000002"/>
<line x1="362.2" y1="389.5" x2="372.2" y2="389.5" stroke="#000000" stroke-width="1.7000000000000002"/>
<circle cx="367.2" cy="369.2" r="4.1" fill="#000000"/>
<line x1="400.7" y1="302.5" x2="400.7" y2="343.1" stroke="#000000" stroke-width="1.3"/>
<line x1="395.7" y1="302.5" x2="405.7" y2="302.5" stroke="#000000" stroke-width="1.7000000000000002"/>
<line x1="395.7" y1="343.1" x2="405.7" y2="343.1" stroke="#000000" stroke-width="1.7000000000000002"/>
<circle cx="400.7" cy="322.8" r="4.1" fill="#000000"/>
<line x1="437.3" y1="192" x2="437.3" y2="232.6" stroke="#000000" stroke-width="1.3"/>
<line x1="432.3" y1="192" x2="442.3" y2="192" stroke="#000000" stroke-width="1.7000000000000002"/>
<line x1="432.3" y1="232.6" x2="442.3" y2="232.6" stroke="#000000" stroke-width="1.7000000000000002"/>
<circle cx="437.3" cy="212.3" r="4.1" fill="#000000"/>
<line x1="437.3" y1="232.4" x2="437.3" y2="273" stroke="#000000" stroke-width="1.3"/>
<line x1="432.3" y1="232.4" x2="442.3" y2="232.4" stroke="#000000" stroke-width="1.7000000000000002"/>
<line x1="432.3" y1="273" x2="442.3" y2="273" stroke="#000000" stroke-width="1.7000000000000002"/>
<circle cx="437.3" cy="252.7" r="4.1" fill="#000000"/>
<line x1="437.3" y1="263.2" x2="437.3" y2="303.8" stroke="#000000" stroke-width="1.3"/>
<line x1="432.3" y1="263.2" x2="442.3" y2="263.2" stroke="#000000" stroke-width="1.7000000000000002"/>
<line x1="432.3" y1="303.8" x2="442.3" y2="303.8" stroke="#000000" stroke-width="1.7000000000000002"/>
<circle cx="437.3" cy="283.5" r="4.1" fill="#000000"/>
<line x1="471.9" y1="147" x2="471.9" y2="187.6" stroke="#000000" stroke-width="1.3"/>
<line x1="466.9" y1="147" x2="476.9" y2="147" stroke="#000000" stroke-width="1.7000000000000002"/>
<line x1="466.9" y1="187.6" x2="476.9" y2="187.6" stroke="#000000" stroke-width="1.7000000000000002"/>
<circle cx="471.9" cy="167.3" r="4.1" fill="#000000"/>
<line x1="471.9" y1="183.2" x2="471.9" y2="223.8" stroke="#000000" stroke-width="1.3"/>
<line x1="466.9" y1="183.2" x2="476.9" y2="183.2" stroke="#000000" stroke-width="1.7000000000000002"/>
<line x1="466.9" y1="223.8" x2="476.9" y2="223.8" stroke="#000000" stroke-width="1.7000000000000002"/>
<circle cx="471.9" cy="203.5" r="4.1" fill="#000000"/>
<line x1="471.9" y1="192.7" x2="471.9" y2="233.3" stroke="#000000" stroke-width="1.3"/>
<line x1="466.9" y1="192.7" x2="476.9" y2="192.7" stroke="#000000" stroke-width="1.7000000000000002"/>
<line x1="466.9" y1="233.3" x2="476.9" y2="233.3" stroke="#000000" stroke-width="1.7000000000000002"/>
<circle cx="471.9" cy="213" r="4.1" fill="#000000"/>
<line x1="471.9" y1="247.7" x2="471.9" y2="288.3" stroke="#000000" stroke-width="1.3"/>
<line x1="466.9" y1="247.7" x2="476.9" y2="247.7" stroke="#000000" stroke-width="1.7000000000000002"/>
<line x1="466.9" y1="288.3" x2="476.9" y2="288.3" stroke="#000000" stroke-width="1.7000000000000002"/>
<circle cx="471.9" cy="268" r="4.1" fill="#000000"/>
<line x1="507.7" y1="121.6" x2="507.7" y2="162.2" stroke="#000000" stroke-width="1.3"/>
<line x1="502.7" y1="121.6" x2="512.7" y2="121.6" stroke="#000000" stroke-width="1.7000000000000002"/>
<line x1="502.7" y1="162.2" x2="512.7" y2="162.2" stroke="#000000" stroke-width="1.7000000000000002"/>
<circle cx="507.7" cy="141.9" r="4.1" fill="#000000"/>
<line x1="647.5" y1="47" x2="647.5" y2="87.6" stroke="#000000" stroke-width="1.3"/>
<line x1="642.5" y1="47" x2="652.5" y2="47" stroke="#000000" stroke-width="1.7000000000000002"/>
<line x1="642.5" y1="87.6" x2="652.5" y2="87.6" stroke="#000000" stroke-width="1.7000000000000002"/>
<circle cx="647.5" cy="67.3" r="4.1" fill="#000000"/>
<polyline points="101.01,398.52 102.83,398.52 104.66,398.52 106.48,398.52 108.3,398.52 110.12,398.52 111.94,398.52 113.76,398.52 115.58,398.52 117.41,398.52 119.23,398.52 121.05,398.52 122.87,398.52 124.69,398.52 126.51,398.52 128.34,398.52 130.16,398.52 131.98,398.52 133.8,398.52 135.62,398.52 137.44,398.52 139.26,398.52 141.09,398.52 142.91,398.52 144.73,398.52 146.55,398.52 148.37,398.52 150.19,398.52 152.02,398.51 153.84,398.51 155.66,398.51 157.48,398.51 159.3,398.51 161.12,398.5 162.95,398.5 164.77,398.49 166.59,398.49 168.41,398.48 170.23,398.47 172.05,398.46 173.87,398.45 175.7,398.44 177.52,398.42 179.34,398.41 181.16,398.39 182.98,398.36 184.8,398.33 186.63,398.29 188.45,398.25 190.27,398.2 192.09,398.14 193.91,398.07 195.73,397.99 197.55,397.9 199.38,397.78 201.2,397.65 203.02,397.49 204.84,397.3 206.66,397.07 208.48,396.81 210.31,396.5 212.13,396.13 213.95,395.7 215.77,395.19 217.59,394.59 219.41,393.88 221.23,393.04 223.06,392.06 224.88,390.91 226.7,389.56 228.52,387.97 230.34,386.12 232.16,383.95 233.99,381.43 235.81,378.5 237.63,375.1 239.45,371.18 241.27,366.67 243.09,361.5 244.92,355.62 246.74,348.97 248.56,341.49 250.38,333.14 252.2,323.91 254.02,313.8 255.84,302.83 257.67,291.06 259.49,278.6 261.31,265.55 263.13,252.08 264.95,238.36 266.77,224.59 268.6,210.94 270.42,197.62 272.24,184.78 274.06,172.57 275.88,161.1 277.7,150.45 279.52,140.67 281.35,131.79 283.17,123.78 284.99,116.62 286.81,110.27 288.63,104.67 290.45,99.77 292.28,95.49 294.1,91.78 295.92,88.57 297.74,85.8 299.56,83.42 301.38,81.38 303.21,79.63 305.03,78.14 306.85,76.87 308.67,75.78 310.49,74.86 312.31,74.08 314.13,73.41 315.96,72.85 317.78,72.37 319.6,71.96 321.42,71.62 323.24,71.33 325.06,71.08 326.89,70.87 328.71,70.69 330.53,70.54 332.35,70.42 334.17,70.31 335.99,70.22 337.81,70.14 339.64,70.08 341.46,70.02 343.28,69.97 345.1,69.93 346.92,69.9 348.74,69.87 350.57,69.85 352.39,69.83 354.21,69.81 356.03,69.8 357.85,69.79 359.67,69.78 361.5,69.77 363.32,69.76 365.14,69.75 366.96,69.75 368.78,69.74 370.6,69.74 372.42,69.74 374.25,69.73 376.07,69.73 377.89,69.73 379.71,69.73 381.53,69.73 383.35,69.73 385.18,69.72 387,69.72 388.82,69.72 390.64,69.72 392.46,69.72 394.28,69.72 396.1,69.72 397.93,69.72 399.75,69.72 401.57,69.72 403.39,69.72 405.21,69.72 407.03,69.72 408.86,69.72 410.68,69.72 412.5,69.72 414.32,69.72 416.14,69.72 417.96,69.72 419.79,69.72 421.61,69.72 423.43,69.72 425.25,69.72 427.07,69.72 428.89,69.72 430.71,69.72 432.54,69.72 434.36,69.72 436.18,69.72 438,69.72 439.82,69.72 441.64,69.72 443.47,69.72 445.29,69.72 447.11,69.72 448.93,69.72 450.75,69.72 452.57,69.72 454.39,69.72 456.22,69.72 458.04,69.72 459.86,69.72 461.68,69.72 463.5,69.72 465.32,69.72 467.15,69.72 468.97,69.72 470.79,69.72 472.61,69.72 474.43,69.72 476.25,69.72 478.07,69.72 479.9,69.72 481.72,69.72 483.54,69.72 485.36,69.72 487.18,69.72 489,69.72 490.83,69.72 492.65,69.72 494.47,69.72 496.29,69.72 498.11,69.72 499.93,69.72 501.76,69.72 503.58,69.72 505.4,69.72 507.22,69.72 509.04,69.72 510.86,69.72 512.68,69.72 514.51,69.72 516.33,69.72 518.15,69.72 519.97,69.72 521.79,69.72 523.61,69.72 525.44,69.72 527.26,69.72 529.08,69.72 530.9,69.72 532.72,69.72 534.54,69.72 536.36,69.72 538.19,69.72 540.01,69.72 541.83,69.72 543.65,69.72 545.47,69.72 547.29,69.72 549.12,69.72 550.94,69.72 552.76,69.72 554.58,69.72 556.4,69.72 558.22,69.72 560.05,69.72 561.87,69.72 563.69,69.72 565.51,69.72 567.33,69.72 569.15,69.72 570.97,69.72 572.8,69.72 574.62,69.72 576.44,69.72 578.26,69.72 580.08,69.72 581.9,69.72 583.73,69.72 585.55,69.72 587.37,69.72 589.19,69.72 591.01,69.72 592.83,69.72 594.65,69.72 596.48,69.72 598.3,69.72 600.12,69.72 601.94,69.72 603.76,69.72 605.58,69.72 607.41,69.72 609.23,69.72 611.05,69.72 612.87,69.72 614.69,69.72 616.51,69.72 618.34,69.72 620.16,69.72 621.98,69.72 623.8,69.72 625.62,69.72 627.44,69.72 629.26,69.72 631.09,69.72 632.91,69.72 634.73,69.72 636.55,69.72 638.37,69.72 640.19,69.72 642.02,69.72 643.84,69.72 645.66,69.72 647.48,69.72" fill="none" stroke="#ff0000" stroke-width="1.85" stroke-linejoin="round"/>
<polyline points="87,390.88 88.99,390.87 90.97,390.87 92.96,390.87 94.94,390.86 96.93,390.86 98.91,390.85 100.9,390.85 102.88,390.84 104.87,390.84 106.85,390.83 108.84,390.83 110.82,390.82 112.81,390.82 114.79,390.81 116.78,390.81 118.76,390.8 120.75,390.79 122.73,390.78 124.72,390.78 126.7,390.77 128.69,390.76 130.67,390.75 132.66,390.74 134.64,390.73 136.63,390.72 138.61,390.71 140.6,390.7 142.58,390.69 144.57,390.68 146.55,390.67 148.54,390.65 150.52,390.64 152.51,390.62 154.49,390.61 156.48,390.59 158.46,390.58 160.45,390.56 162.43,390.54 164.42,390.52 166.4,390.51 168.39,390.48 170.37,390.46 172.36,390.44 174.34,390.42 176.33,390.39 178.31,390.37 180.3,390.34 182.28,390.31 184.27,390.28 186.25,390.25 188.24,390.22 190.22,390.19 192.21,390.15 194.19,390.12 196.18,390.08 198.16,390.04 200.15,390 202.13,389.96 204.12,389.91 206.1,389.86 208.09,389.81 210.07,389.76 212.06,389.71 214.04,389.65 216.03,389.59 218.01,389.53 220,389.47 221.98,389.4 223.97,389.33 225.95,389.25 227.94,389.18 229.92,389.1 231.91,389.01 233.89,388.92 235.88,388.83 237.86,388.74 239.85,388.63 241.83,388.53 243.82,388.42 245.8,388.31 247.79,388.19 249.77,388.06 251.76,387.93 253.74,387.79 255.73,387.65 257.71,387.5 259.7,387.34 261.68,387.18 263.67,387.01 265.65,386.83 267.64,386.65 269.62,386.45 271.61,386.25 273.59,386.04 275.58,385.82 277.56,385.59 279.55,385.35 281.53,385.1 283.52,384.84 285.5,384.56 287.49,384.28 289.47,383.98 291.46,383.67 293.44,383.34 295.43,383 297.41,382.65 299.4,382.28 301.38,381.89 303.37,381.49 305.35,381.07 307.34,380.64 309.32,380.18 311.31,379.7 313.29,379.21 315.28,378.69 317.26,378.15 319.25,377.59 321.23,377.01 323.22,376.4 325.2,375.77 327.19,375.11 329.17,374.42 331.16,373.7 333.14,372.96 335.13,372.18 337.11,371.38 339.1,370.54 341.08,369.67 343.07,368.76 345.05,367.82 347.04,366.84 349.02,365.82 351.01,364.76 352.99,363.67 354.98,362.53 356.96,361.34 358.95,360.12 360.93,358.85 362.92,357.53 364.9,356.16 366.89,354.75 368.87,353.28 370.86,351.77 372.84,350.2 374.83,348.57 376.81,346.9 378.8,345.16 380.78,343.37 382.77,341.52 384.75,339.62 386.74,337.65 388.73,335.62 390.71,333.53 392.7,331.38 394.68,329.17 396.67,326.89 398.65,324.55 400.64,322.15 402.62,319.68 404.61,317.15 406.59,314.56 408.58,311.9 410.56,309.19 412.55,306.4 414.53,303.56 416.52,300.66 418.5,297.7 420.49,294.67 422.47,291.59 424.46,288.46 426.44,285.27 428.43,282.03 430.41,278.74 432.4,275.4 434.38,272.02 436.37,268.6 438.35,265.13 440.34,261.62 442.32,258.09 444.31,254.52 446.29,250.92 448.28,247.29 450.26,243.65 452.25,239.99 454.23,236.31 456.22,232.62 458.2,228.92 460.19,225.22 462.17,221.52 464.16,217.83 466.14,214.14 468.13,210.46 470.11,206.8 472.1,203.15 474.08,199.53 476.07,195.93 478.05,192.36 480.04,188.82 482.02,185.31 484.01,181.84 485.99,178.42 487.98,175.03 489.96,171.69 491.95,168.4 493.93,165.16 495.92,161.97 497.9,158.84 499.89,155.76 501.87,152.73 503.86,149.77 505.84,146.86 507.83,144.02 509.81,141.24 511.8,138.52 513.78,135.86 515.77,133.26 517.75,130.73 519.74,128.27 521.72,125.86 523.71,123.52 525.69,121.24 527.68,119.03 529.66,116.88 531.65,114.79 533.63,112.76 535.62,110.79 537.6,108.88 539.59,107.03 541.57,105.24 543.56,103.5 545.54,101.82 547.53,100.2 549.51,98.63 551.5,97.11 553.48,95.64 555.47,94.23 557.45,92.86 559.44,91.54 561.42,90.27 563.41,89.04 565.39,87.86 567.38,86.72 569.36,85.62 571.35,84.56 573.33,83.55 575.32,82.56 577.3,81.62 579.29,80.71 581.27,79.84 583.26,79 585.24,78.19 587.23,77.42 589.21,76.67 591.2,75.96 593.18,75.27 595.17,74.61 597.15,73.97 599.14,73.36 601.12,72.78 603.11,72.22 605.09,71.68 607.08,71.16 609.06,70.67 611.05,70.19 613.03,69.73 615.02,69.3 617,68.88 618.99,68.48 620.97,68.09 622.96,67.72 624.94,67.37 626.93,67.03 628.91,66.7 630.9,66.39 632.88,66.09 634.87,65.8 636.85,65.53 638.84,65.27 640.82,65.02 642.81,64.77 644.79,64.54 646.78,64.32 648.76,64.11 650.75,63.91 652.73,63.71 654.72,63.53 656.7,63.35 658.69,63.18 660.67,63.02 662.66,62.86 664.64,62.71 666.63,62.57 668.61,62.43 670.6,62.3 672.58,62.18 674.57,62.06 676.55,61.94 678.54,61.83 680.52,61.73 682.51,61.63" fill="none" stroke="#000000" stroke-width="1.85" stroke-linejoin="round"/>
<line x1="78.2" y1="5.6" x2="78.2" y2="459.0" stroke="#000" stroke-width="2.1"/>
<line x1="77.15" y1="457.95" x2="682.4" y2="457.95" stroke="#000" stroke-width="2.1"/>
<line x1="66.8" y1="409.4" x2="78.2" y2="409.4" stroke="#000" stroke-width="2.2"/>
<text x="62.3" y="415.8" text-anchor="end" class="tk">0</text>
<line x1="66.8" y1="328.84" x2="78.2" y2="328.84" stroke="#000" stroke-width="2.2"/>
<text x="62.3" y="335.24" text-anchor="end" class="tk">20</text>
<line x1="66.8" y1="248.28" x2="78.2" y2="248.28" stroke="#000" stroke-width="2.2"/>
<text x="62.3" y="254.68" text-anchor="end" class="tk">40</text>
<line x1="66.8" y1="167.72" x2="78.2" y2="167.72" stroke="#000" stroke-width="2.2"/>
<text x="62.3" y="174.12" text-anchor="end" class="tk">60</text>
<line x1="66.8" y1="87.16" x2="78.2" y2="87.16" stroke="#000" stroke-width="2.2"/>
<text x="62.3" y="93.56" text-anchor="end" class="tk">80</text>
<line x1="66.8" y1="6.6" x2="78.2" y2="6.6" stroke="#000" stroke-width="2.2"/>
<text x="62.3" y="13" text-anchor="end" class="tk">100</text>
<line x1="87" y1="457.95" x2="87" y2="469.8" stroke="#000" stroke-width="2.2"/>
<text x="87.8" y="490.8" text-anchor="middle" class="tk">0</text>
<line x1="227.12" y1="457.95" x2="227.12" y2="469.8" stroke="#000" stroke-width="2.2"/>
<text x="227.92" y="490.8" text-anchor="middle" class="tk">200</text>
<line x1="367.24" y1="457.95" x2="367.24" y2="469.8" stroke="#000" stroke-width="2.2"/>
<text x="368.04" y="490.8" text-anchor="middle" class="tk">400</text>
<line x1="507.36" y1="457.95" x2="507.36" y2="469.8" stroke="#000" stroke-width="2.2"/>
<text x="508.16" y="490.8" text-anchor="middle" class="tk">600</text>
<line x1="647.48" y1="457.95" x2="647.48" y2="469.8" stroke="#000" stroke-width="2.2"/>
<text x="648.28" y="490.8" text-anchor="middle" class="tk">800</text>
<text x="384.5" y="512.8" text-anchor="middle" class="ttl">T of heating [°C]</text>
<text transform="translate(26.2,236.8) rotate(-90)" text-anchor="middle" class="ttl yt"><tspan class="sup" dy="-9.5">210</tspan><tspan dy="9.5">Po and </tspan><tspan class="sup" dy="-9.5">210</tspan><tspan dy="9.5">Pb loss on heating (%)</tspan></text>
<text x="287" y="169.5" class="lab">T</text>
<text x="299.7" y="173.5" class="sub">1/2</text>
<text x="316.1" y="169.5" class="lab">= 255.9 ± 2.2</text>
<text x="501.2" y="224.9" class="lab">T</text>
<text x="513.9" y="228.9" class="sub">1/2</text>
<text x="530.3" y="224.9" class="lab">= 531 ± 17</text>
<text x="133.0" y="51.8" class="leg">AmericanSpirit</text>
<text x="133.0" y="71.47" class="leg">Kent</text>
<text x="133.0" y="91.14" class="leg">Chesterfield</text>
<text x="133.0" y="110.81" class="leg">1R6F</text>
<text x="133.0" y="130.48" class="leg">IQOS</text>
<text x="133.0" y="150.15" class="leg">Parisienne</text>
<text x="133.0" y="169.82" class="leg">Winston</text>
<text x="133.0" y="189.49" class="leg">MaryLong</text>
<text x="133.0" y="209.16" class="leg">'B&amp;H'</text>
<text x="133.0" y="228.83" class="leg">ashes</text>
<text x="133.0" y="248.5" class="leg">Pb-210</text>
<circle cx="109.3" cy="46.1" r="5.4" fill="none" stroke="#5a5ae6" stroke-width="1.3"/>
<circle cx="109.3" cy="65.77" r="5.4" fill="none" stroke="#ee2a2a" stroke-width="1.3"/>
<circle cx="109.3" cy="85.44" r="5.4" fill="none" stroke="#4cb84c" stroke-width="1.3"/>
<circle cx="109.3" cy="105.11" r="5.2" fill="none" stroke="#000" stroke-width="2.4"/>
<circle cx="109.3" cy="124.78" r="5.2" fill="#ff0000" stroke="#000" stroke-width="1.6"/>
<circle cx="109.3" cy="144.45" r="5.4" fill="none" stroke="#d86ad8" stroke-width="1.3"/>
<polygon points="102.9,160.6 115.9,160.6 109.4,171.2" fill="none" stroke="#ee3333" stroke-width="1.2" stroke-linejoin="miter"/>
<circle cx="109.4" cy="163.9" r="0.8" fill="#ee3333"/>
<polygon points="102.7,178.5 116.2,178.5 102.7,189.4 116.2,189.4" fill="#3d5ddb"/>
<polygon points="102.7,178.5 116.2,178.5 109.45,183.95" fill="#3d5ddb"/>
<polygon points="102.7,189.4 116.2,189.4 109.45,183.95" fill="#3d5ddb"/>
<polygon points="105,193.8 105,207.7 119.6,207.7" fill="#43c843"/>
<polygon points="109.4,217.1 104.29,220.05 104.29,225.95 109.4,228.9 114.51,225.95 114.51,220.05" fill="#ff0000"/>
<circle cx="109.4" cy="242.7" r="5.7" fill="#000"/>
</svg>
</body></html>
